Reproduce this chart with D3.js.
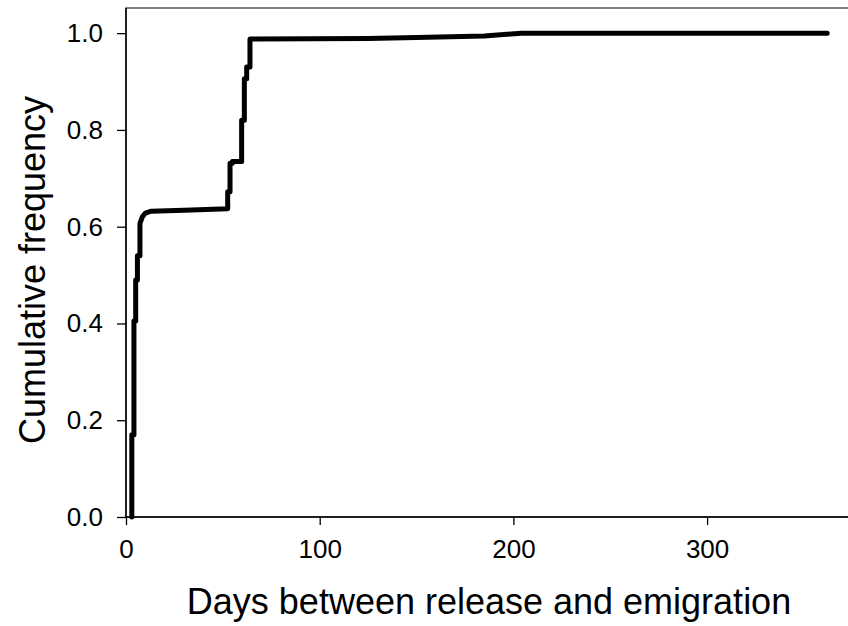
<!DOCTYPE html>
<html>
<head>
<meta charset="utf-8">
<script src="https://cdn.jsdelivr.net/npm/d3@7"></script>
<style>
  body { margin: 0; background: #fff; }
  svg { display: block; }
  text { font-family: "Liberation Sans", Arial, sans-serif; fill: #000; }
</style>
</head>
<body>
<svg id="chart" width="848" height="626"></svg>
<script>
// cumulative frequency curve (repeated days = vertical steps)
const days = [3, 3, 4.1, 4.1, 5, 5, 5.9, 5.9, 7.2, 7.2, 8.5, 10, 13, 30, 52.5, 52.5, 53.7, 53.7, 54.9, 54.9, 59.7, 59.7, 61.1, 61.1, 62.3, 62.3, 64, 64, 125, 150, 185, 204, 362]
const freq = [0, 0.17, 0.17, 0.405, 0.405, 0.49, 0.49, 0.54, 0.54, 0.607, 0.621, 0.628, 0.632, 0.634, 0.637, 0.672, 0.672, 0.731, 0.731, 0.735, 0.735, 0.82, 0.82, 0.906, 0.906, 0.93, 0.93, 0.988, 0.989, 0.991, 0.994, 1.0, 1.0]

const xTicks = [0, 100, 200, 300]
const yTicks = [0, 0.2, 0.4, 0.6, 0.8, 1.0]

const svg = d3.select("#chart")
const plotLeft = 126, plotBottom = 517, plotTop = 8

const x = d3.scaleLinear().domain([0, 375]).range([plotLeft, plotLeft + 375 * 1.937])
const y = d3.scaleLinear().domain([0, 1.052]).range([plotBottom, plotTop])

// frame (top / right edges)
svg.append("rect")
  .attr("x", plotLeft).attr("y", plotTop)
  .attr("width", x(375) - plotLeft).attr("height", plotBottom - plotTop)
  .attr("fill", "none").attr("stroke", "#555").attr("stroke-width", 1.5)

const xAxis = svg.append("g")
  .attr("transform", `translate(0,${plotBottom})`)
  .call(d3.axisBottom(x).tickValues(xTicks).tickSize(8).tickPadding(15).tickFormat(d3.format("d")))
const yAxis = svg.append("g")
  .attr("transform", `translate(${plotLeft},0)`)
  .call(d3.axisLeft(y).tickValues(yTicks).tickSize(9).tickPadding(14).tickFormat(d3.format(".1f")))

;[xAxis, yAxis].forEach(g => {
  g.select(".domain").remove()
  g.selectAll("line").attr("stroke", "#000").attr("stroke-width", 1.3)
  g.selectAll("text").style("font-size", "26px").style("font-family", '"Liberation Sans", Arial, sans-serif')
})

// axis lines
svg.append("line").attr("x1", plotLeft).attr("x2", x(375)).attr("y1", plotBottom).attr("y2", plotBottom)
  .attr("stroke", "#000").attr("stroke-width", 1.5)
svg.append("line").attr("x1", plotLeft).attr("x2", plotLeft).attr("y1", plotBottom).attr("y2", plotTop)
  .attr("stroke", "#000").attr("stroke-width", 1.5)

const pts = days.map((d, i) => [d, freq[i]])
svg.append("path")
  .datum(pts)
  .attr("fill", "none")
  .attr("stroke", "#000")
  .attr("stroke-width", 5)
  .attr("stroke-linejoin", "round")
  .attr("stroke-linecap", "round")
  .attr("d", d3.line().x(d => x(d[0])).y(d => y(d[1])))

svg.append("text")
  .attr("x", 489).attr("y", 614)
  .attr("text-anchor", "middle")
  .style("font-size", "36px")
  .text("Days between release and emigration")

svg.append("text")
  .attr("transform", "translate(45,270) rotate(-90)")
  .attr("text-anchor", "middle")
  .style("font-size", "36px")
  .text("Cumulative frequency")
</script>
</body>
</html>
